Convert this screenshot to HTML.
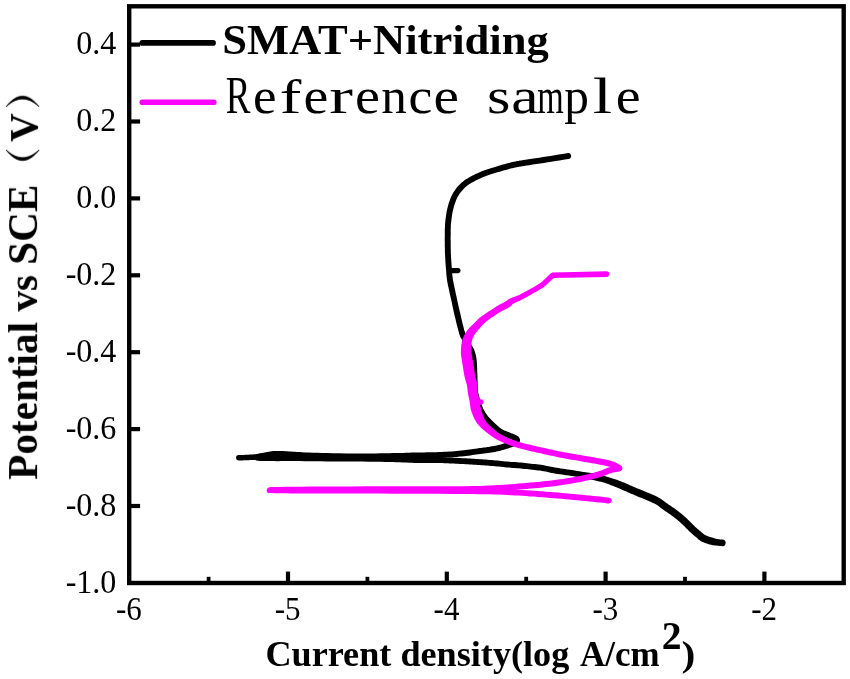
<!DOCTYPE html>
<html><head><meta charset="utf-8"><title>Polarization curves</title>
<style>
html,body{margin:0;padding:0;background:#fff;}
body{width:850px;height:679px;overflow:hidden;font-family:"Liberation Serif",serif;}
svg{display:block;}
text{font-family:"Liberation Serif",serif;fill:#000;}
.tx{filter:grayscale(1);}
.b{font-weight:bold;}
</style></head><body>
<svg width="850" height="679" viewBox="0 0 850 679">
<rect x="0" y="0" width="850" height="679" fill="#fff"/>
<g stroke="#000" stroke-width="4.2" fill="none">
<line x1="129.2" y1="44.6" x2="140.1" y2="44.6"/>
<line x1="129.2" y1="121.5" x2="140.1" y2="121.5"/>
<line x1="129.2" y1="198.4" x2="140.1" y2="198.4"/>
<line x1="129.2" y1="275.3" x2="140.1" y2="275.3"/>
<line x1="129.2" y1="352.2" x2="140.1" y2="352.2"/>
<line x1="129.2" y1="429.1" x2="140.1" y2="429.1"/>
<line x1="129.2" y1="506.0" x2="140.1" y2="506.0"/>
<line x1="288.0" y1="583.0" x2="288.0" y2="571.6"/>
<line x1="446.8" y1="583.0" x2="446.8" y2="571.6"/>
<line x1="605.6" y1="583.0" x2="605.6" y2="571.6"/>
<line x1="764.4" y1="583.0" x2="764.4" y2="571.6"/>
</g>
<g stroke="#000" stroke-width="3.8" fill="none">
<line x1="208.6" y1="583.0" x2="208.6" y2="576.8"/>
<line x1="367.4" y1="583.0" x2="367.4" y2="576.8"/>
<line x1="526.2" y1="583.0" x2="526.2" y2="576.8"/>
<line x1="685.0" y1="583.0" x2="685.0" y2="576.8"/>
</g>
<rect x="129.2" y="6.3" width="714.5" height="576.7" fill="none" stroke="#000" stroke-width="4.4"/>
<g class="tx">
<g font-size="33" text-anchor="end">
<text transform="translate(116.4,54.2) scale(0.972,1)">0.4</text>
<text transform="translate(116.4,131.1) scale(0.972,1)">0.2</text>
<text transform="translate(116.4,208.0) scale(0.972,1)">0.0</text>
<text transform="translate(116.4,284.9) scale(0.972,1)">-0.2</text>
<text transform="translate(116.4,361.8) scale(0.972,1)">-0.4</text>
<text transform="translate(116.4,438.7) scale(0.972,1)">-0.6</text>
<text transform="translate(116.4,515.6) scale(0.972,1)">-0.8</text>
<text transform="translate(116.4,592.5) scale(0.972,1)">-1.0</text>
</g>
<g font-size="33" text-anchor="middle">
<text transform="translate(128.9,620.3) scale(0.94,1)">-6</text>
<text transform="translate(287.7,620.3) scale(0.94,1)">-5</text>
<text transform="translate(446.5,620.3) scale(0.94,1)">-4</text>
<text transform="translate(605.3,620.3) scale(0.94,1)">-3</text>
<text transform="translate(764.1,620.3) scale(0.94,1)">-2</text>
</g>
<text class="b" x="265.4" y="665.6" font-size="36.2">Current density(log</text>
<text class="b" x="580.0" y="665.6" font-size="34.9">A/cm</text>
<text class="b" x="661.7" y="649.2" font-size="39.6">2</text>
<text class="b" x="681.6" y="665.6" font-size="36.2" transform="translate(681.6,0) scale(1.15,1) translate(-681.6,0)">)</text>
<g transform="translate(37.1,479.8) rotate(-90)"><text class="b" x="0" y="0" font-size="41.2">Potential vs SCE</text><text class="b" x="338.0" y="0" font-size="39.5">V</text><path d="M329.9,-30.9 C315.8,-20 315.8,-9 329.9,2.0 C319.6,-9 319.6,-20 329.9,-30.9Z" fill="#000" stroke="#000" stroke-width="0.8"/><path d="M373.1,-30.9 C387.2,-20 387.2,-9 373.1,2.0 C383.4,-9 383.4,-20 373.1,-30.9Z" fill="#000" stroke="#000" stroke-width="0.8"/></g>
<text class="b" transform="translate(222.2,53.5) scale(1.032,1)" font-size="43.2">SMAT+Nitriding</text>
<text transform="translate(225.79,112.6) scale(0.719,1.02)" font-size="51.5">R</text>
<text transform="translate(252.88,112.6) scale(1.029,0.964)" font-size="51.5">e</text>
<text transform="translate(279.66,112.6) scale(1.258,0.95)" font-size="51.5">f</text>
<text transform="translate(303.56,112.6) scale(1.086,0.964)" font-size="51.5">e</text>
<text transform="translate(329.28,112.6) scale(1.382,0.964)" font-size="51.5">r</text>
<text transform="translate(354.95,112.6) scale(1.092,0.964)" font-size="51.5">e</text>
<text transform="translate(381.25,112.6) scale(0.995,0.964)" font-size="51.5">n</text>
<text transform="translate(408.49,112.6) scale(1.041,0.964)" font-size="51.5">c</text>
<text transform="translate(433.61,112.6) scale(1.113,0.964)" font-size="51.5">e</text>
<text transform="translate(487.09,112.6) scale(1.168,0.964)" font-size="51.5">s</text>
<text transform="translate(511.25,112.6) scale(1.195,0.964)" font-size="51.5">a</text>
<text transform="translate(537.32,112.6) scale(0.662,0.964)" font-size="51.5">m</text>
<text transform="translate(564.36,112.6) scale(0.956,0.964)" font-size="51.5">p</text>
<text transform="translate(592.80,112.6) scale(1.357,1.0)" font-size="51.5">l</text>
<text transform="translate(615.76,112.6) scale(1.086,0.964)" font-size="51.5">e</text>
</g>
<line x1="142.3" y1="42.9" x2="213.1" y2="42.9" stroke="#000" stroke-width="5.6" stroke-linecap="round"/>
<line x1="142.3" y1="102.2" x2="213.8" y2="102.2" stroke="#ff00ff" stroke-width="5.6" stroke-linecap="round"/>
<g stroke="none">
<path d="M567.9,153.1L565.6,153.5L562.4,154.0L558.7,154.6L554.6,155.2L550.5,155.9L546.7,156.5L543.1,157.1L539.3,157.7L535.4,158.2L531.8,158.8L528.4,159.3L525.5,159.8L523.2,160.1L521.4,160.4L519.8,160.6L518.4,160.9L517.0,161.1L515.4,161.4L513.8,161.8L512.2,162.1L510.6,162.5L509.0,162.9L507.5,163.3L505.9,163.8L504.4,164.2L502.8,164.6L501.2,165.1L499.6,165.5L498.0,166.0L496.5,166.5L494.9,166.9L493.3,167.4L491.6,167.9L490.0,168.4L488.4,168.9L486.8,169.4L485.3,169.9L483.9,170.5L482.5,171.0L481.1,171.6L479.8,172.2L478.4,172.8L477.0,173.5L475.5,174.1L474.0,174.9L472.6,175.6L471.2,176.3L469.9,177.0L468.6,177.7L467.5,178.4L466.3,179.1L465.2,179.8L464.1,180.6L463.1,181.4L462.0,182.3L461.0,183.2L460.0,184.2L459.1,185.1L458.2,186.1L457.3,187.1L456.5,188.1L455.7,189.1L455.0,190.2L454.2,191.2L453.5,192.3L452.8,193.4L452.2,194.6L451.7,195.7L451.1,196.8L450.6,198.0L450.2,199.2L449.7,200.4L449.3,201.7L448.8,203.1L448.4,204.6L448.0,206.0L447.6,207.5L447.2,208.9L446.9,210.4L446.6,211.8L446.4,213.3L446.2,214.7L446.0,216.1L445.8,217.5L445.6,218.8L445.4,220.1L445.3,221.4L445.2,222.8L445.0,224.2L445.0,225.9L444.9,227.7L444.8,229.6L444.8,231.6L444.8,233.7L444.8,235.7L444.8,237.7L444.7,239.6L444.8,241.4L444.8,243.3L444.8,245.1L444.8,246.8L444.9,248.5L444.9,250.0L444.9,251.3L444.9,252.6L445.0,253.9L445.1,255.4L445.2,257.2L445.3,259.3L445.4,261.7L445.6,264.3L445.8,267.0L446.0,269.4L446.2,271.5L446.3,273.3L446.4,274.9L446.6,276.3L446.7,277.7L446.9,279.0L447.1,280.4L447.3,281.9L447.6,283.2L447.8,284.5L448.1,285.9L448.4,287.2L448.7,288.6L449.0,290.0L449.3,291.4L449.6,292.9L450.0,294.4L450.4,296.2L450.8,298.3L451.4,300.8L452.0,303.6L452.6,306.6L453.3,309.8L454.0,312.9L454.7,316.0L455.5,319.1L456.2,322.3L457.0,325.5L457.8,328.6L458.6,331.5L459.3,333.9L460.0,335.9L460.6,337.4L461.3,338.6L461.9,339.6L462.4,340.5L462.9,341.4L463.5,342.5L464.1,343.7L464.7,344.8L465.3,345.9L465.9,346.9L466.4,347.9L467.0,348.9L467.5,349.7L467.9,350.4L468.2,351.0L468.6,351.6L468.9,352.3L469.2,353.1L469.4,354.0L469.7,355.0L470.0,356.0L470.2,357.0L470.4,358.0L470.6,359.0L470.7,360.0L470.8,360.9L470.9,362.0L471.0,363.0L471.1,364.2L471.1,365.4L471.2,366.7L471.2,368.0L471.3,369.4L471.3,370.7L471.4,372.1L471.4,373.5L471.5,374.9L471.5,376.2L471.6,377.6L471.6,378.9L471.7,380.1L471.7,381.2L471.7,382.2L471.7,383.2L471.8,384.1L471.8,385.1L471.9,386.1L471.9,387.1L471.9,388.1L471.9,389.2L472.0,390.3L472.1,391.6L472.3,392.9L472.6,394.3L472.9,395.7L473.2,397.1L473.6,398.6L474.1,400.0L474.5,401.4L474.9,402.8L475.3,404.2L475.7,405.6L476.2,407.1L476.8,408.5L477.4,410.0L478.1,411.5L478.9,413.0L479.7,414.5L480.6,416.0L481.5,417.4L482.5,418.9L483.6,420.2L484.7,421.5L485.8,422.7L487.0,423.9L488.2,425.1L489.5,426.2L490.7,427.5L492.1,428.8L493.6,430.2L495.1,431.5L496.7,432.8L498.4,434.0L500.2,435.0L502.0,435.9L503.8,436.6L505.5,437.2L507.0,437.8L508.4,438.3L509.7,438.9L510.9,439.3L512.0,439.8L512.9,440.1L513.6,440.4L514.0,440.7L514.3,440.9L514.4,441.0L514.3,440.9L514.2,440.5L514.1,440.1L514.2,439.7L514.3,439.5L514.3,439.5L514.1,439.7L513.8,439.9L513.3,440.2L512.7,440.6L512.0,440.9L511.0,441.2L509.9,441.6L508.8,442.0L507.5,442.4L506.2,442.8L504.9,443.2L503.6,443.6L502.3,444.0L501.0,444.4L499.6,444.8L498.2,445.1L496.8,445.5L495.3,445.8L493.8,446.1L492.3,446.3L490.6,446.6L489.0,446.9L487.2,447.1L485.3,447.4L483.3,447.6L481.3,447.9L479.3,448.1L477.3,448.4L475.3,448.7L473.4,449.0L471.5,449.2L469.6,449.5L467.6,449.8L465.6,450.1L463.4,450.3L461.2,450.5L458.9,450.8L456.6,451.0L454.2,451.2L451.8,451.4L449.4,451.5L446.9,451.7L444.4,451.8L441.8,451.9L439.2,452.1L436.4,452.2L433.5,452.2L430.4,452.3L427.1,452.3L423.9,452.4L420.7,452.4L417.5,452.5L414.6,452.5L411.8,452.6L409.1,452.7L406.3,452.8L403.3,452.9L399.9,453.0L396.4,453.0L392.9,453.1L389.1,453.2L385.1,453.3L380.5,453.3L375.3,453.4L369.1,453.4L361.9,453.4L354.3,453.4L346.6,453.4L339.4,453.3L332.9,453.3L327.3,453.1L322.1,453.0L317.3,452.8L312.9,452.7L308.8,452.5L305.1,452.4L302.0,452.2L299.4,452.1L297.1,451.9L295.1,451.8L293.2,451.7L291.2,451.6L289.1,451.4L287.2,451.3L285.3,451.2L283.5,451.1L281.7,451.0L280.1,451.0L278.5,450.9L277.1,450.9L275.7,451.0L274.4,451.0L273.1,451.1L271.7,451.3L270.2,451.4L268.8,451.7L267.4,451.9L266.0,452.2L264.7,452.5L263.4,452.7L262.1,453.0L260.7,453.3L259.4,453.6L258.1,453.8L257.1,454.1L256.4,454.2A2.95,2.95 0 0 0 257.6,460.0L258.4,459.8L259.4,459.6L260.6,459.3L261.9,459.0L263.3,458.8L264.6,458.5L265.9,458.2L267.2,458.0L268.5,457.7L269.8,457.5L271.1,457.3L272.3,457.1L273.5,457.0L274.7,456.9L275.9,456.9L277.2,456.8L278.5,456.8L279.9,456.8L281.5,456.9L283.2,457.0L284.9,457.1L286.8,457.2L288.8,457.3L290.8,457.4L292.8,457.6L294.7,457.7L296.8,457.8L299.0,458.0L301.7,458.1L304.9,458.2L308.6,458.4L312.6,458.6L317.1,458.7L321.9,458.9L327.2,459.0L332.9,459.1L339.3,459.2L346.6,459.3L354.3,459.3L361.9,459.3L369.1,459.3L375.3,459.2L380.6,459.2L385.2,459.2L389.3,459.1L393.0,459.0L396.6,458.9L400.1,458.8L403.4,458.8L406.4,458.7L409.3,458.6L412.0,458.5L414.8,458.4L417.7,458.3L420.8,458.3L424.0,458.3L427.2,458.2L430.4,458.2L433.6,458.1L436.6,458.0L439.4,457.9L442.1,457.8L444.7,457.7L447.3,457.6L449.7,457.4L452.2,457.2L454.7,457.1L457.1,456.9L459.5,456.6L461.8,456.4L464.0,456.2L466.2,455.9L468.4,455.7L470.4,455.4L472.4,455.1L474.3,454.8L476.2,454.5L478.1,454.2L480.1,454.0L482.0,453.7L484.0,453.5L486.0,453.2L488.0,453.0L489.8,452.7L491.6,452.4L493.3,452.2L494.9,451.9L496.5,451.5L498.0,451.2L499.6,450.9L501.1,450.5L502.6,450.1L504.0,449.7L505.4,449.2L506.7,448.8L508.0,448.4L509.2,448.0L510.5,447.6L511.8,447.2L513.0,446.8L514.2,446.3L515.3,445.8L516.3,445.3L517.2,444.8L517.9,444.1L518.7,443.4L519.3,442.6L519.8,441.5L520.0,440.3L519.9,439.0L519.4,437.9L518.8,437.0L518.0,436.3L517.2,435.7L516.2,435.2L515.2,434.7L514.1,434.3L513.0,433.8L511.9,433.4L510.6,432.9L509.2,432.3L507.6,431.7L506.0,431.1L504.4,430.5L502.9,429.8L501.6,429.0L500.3,428.1L498.9,427.0L497.6,425.8L496.2,424.5L494.8,423.2L493.5,422.0L492.3,420.8L491.2,419.7L490.1,418.6L489.1,417.5L488.1,416.5L487.3,415.3L486.4,414.1L485.6,412.9L484.8,411.6L484.1,410.2L483.4,408.9L482.8,407.6L482.2,406.3L481.8,405.1L481.3,403.8L480.9,402.5L480.5,401.1L480.1,399.8L479.7,398.4L479.3,397.0L479.0,395.6L478.6,394.3L478.3,393.1L478.1,391.9L478.0,390.9L477.9,389.9L477.8,389.0L477.8,388.0L477.8,386.9L477.7,385.9L477.7,384.9L477.7,383.9L477.6,383.0L477.6,382.0L477.6,381.0L477.5,379.9L477.5,378.7L477.5,377.4L477.4,376.0L477.4,374.6L477.3,373.2L477.2,371.9L477.2,370.6L477.2,369.2L477.1,367.8L477.1,366.4L477.0,365.1L476.9,363.8L476.9,362.6L476.8,361.5L476.7,360.4L476.5,359.2L476.4,358.1L476.2,357.0L476.0,355.8L475.7,354.6L475.4,353.5L475.1,352.3L474.7,351.2L474.3,350.1L473.9,349.1L473.4,348.2L472.9,347.3L472.5,346.6L472.0,345.9L471.6,345.1L471.1,344.1L470.5,343.1L469.9,342.0L469.3,340.9L468.7,339.8L468.1,338.6L467.5,337.5L466.9,336.6L466.4,335.8L466.0,334.9L465.5,333.7L464.9,332.1L464.2,329.9L463.5,327.1L462.7,324.1L462.0,320.9L461.2,317.7L460.5,314.6L459.8,311.6L459.1,308.5L458.4,305.4L457.7,302.4L457.1,299.5L456.6,297.1L456.1,295.0L455.7,293.2L455.4,291.6L455.1,290.2L454.8,288.8L454.5,287.4L454.2,286.0L453.9,284.6L453.6,283.3L453.4,282.1L453.1,280.8L452.9,279.6L452.7,278.3L452.6,277.0L452.4,275.8L452.3,274.4L452.2,272.8L452.0,271.1L451.9,268.9L451.7,266.5L451.5,263.9L451.3,261.4L451.2,258.9L451.0,256.8L451.0,255.1L450.9,253.7L450.8,252.4L450.8,251.1L450.8,249.8L450.7,248.3L450.7,246.7L450.7,245.0L450.7,243.2L450.7,241.4L450.6,239.6L450.6,237.7L450.7,235.8L450.7,233.8L450.7,231.7L450.7,229.7L450.8,227.9L450.8,226.1L450.9,224.6L451.0,223.3L451.2,222.0L451.3,220.8L451.5,219.6L451.6,218.3L451.8,216.9L452.0,215.6L452.2,214.2L452.4,212.9L452.7,211.6L453.0,210.3L453.3,208.9L453.7,207.6L454.0,206.2L454.4,204.9L454.9,203.6L455.3,202.4L455.7,201.3L456.1,200.2L456.5,199.2L457.0,198.2L457.4,197.3L458.0,196.4L458.5,195.4L459.1,194.5L459.7,193.6L460.4,192.7L461.1,191.8L461.9,190.9L462.6,190.0L463.4,189.2L464.2,188.3L465.0,187.5L465.9,186.7L466.7,186.0L467.6,185.3L468.5,184.7L469.5,184.1L470.5,183.5L471.6,182.8L472.7,182.2L474.0,181.5L475.3,180.8L476.6,180.1L478.0,179.5L479.4,178.8L480.8,178.2L482.1,177.6L483.4,177.0L484.7,176.5L486.0,176.0L487.4,175.5L488.8,175.0L490.2,174.5L491.7,174.0L493.3,173.5L494.9,173.1L496.5,172.6L498.1,172.1L499.7,171.7L501.3,171.2L502.8,170.7L504.4,170.3L505.9,169.9L507.5,169.4L509.0,169.0L510.5,168.6L512.0,168.2L513.5,167.9L515.1,167.5L516.6,167.2L518.0,166.9L519.3,166.7L520.7,166.5L522.2,166.3L524.1,166.0L526.5,165.6L529.3,165.2L532.7,164.6L536.4,164.1L540.2,163.5L544.0,162.9L547.7,162.3L551.4,161.7L555.5,161.1L559.6,160.4L563.4,159.8L566.6,159.3L568.9,158.9A2.95,2.95 0 0 0 567.9,153.1Z" fill="#000"/>
<path d="M238.9,460.4L239.7,460.4L240.9,460.4L242.4,460.4L244.0,460.3L245.6,460.3L247.1,460.2L248.6,460.2L250.0,460.1L251.5,460.1L253.1,460.0L254.6,459.9L256.2,459.8L257.6,459.7L258.8,459.5L259.8,459.4L261.0,459.3L263.0,459.2L266.0,459.1L269.8,459.1L274.0,459.1L278.9,459.1L284.7,459.2L291.6,459.3L300.0,459.3L310.5,459.3L323.2,459.3L337.0,459.3L350.9,459.3L364.0,459.4L375.3,459.4L384.8,459.5L393.5,459.6L401.3,459.7L408.3,459.8L414.5,459.9L420.0,459.9L424.6,459.9L428.4,459.9L431.3,459.8L433.7,459.8L435.5,459.7L437.0,459.7A2.30,2.30 0 0 0 437.0,455.1L435.4,455.1L433.6,455.2L431.3,455.2L428.3,455.2L424.6,455.3L420.0,455.3L414.5,455.3L408.3,455.4L401.3,455.4L393.5,455.5L384.9,455.5L375.3,455.4L364.1,455.3L351.0,455.1L337.0,454.9L323.2,454.7L310.5,454.5L300.0,454.3L291.7,454.1L284.8,454.0L279.0,453.8L274.1,453.6L269.8,453.5L266.0,453.5L262.8,453.5L260.7,453.6L259.1,453.8L258.0,453.9L257.0,454.1L255.8,454.2L254.3,454.3L252.7,454.4L251.2,454.5L249.8,454.6L248.3,454.7L246.9,454.8L245.4,454.8L243.8,454.9L242.3,454.9L240.8,454.9L239.6,455.0L238.7,455.0A2.70,2.70 0 0 0 238.9,460.4Z" fill="#000"/>
<path d="M256.9,460.7L257.6,460.8L258.6,460.8L259.7,460.9L261.1,461.0L262.5,461.0L263.9,461.0L265.2,461.1L266.5,461.1L267.8,461.1L269.4,461.1L271.4,461.1L274.0,461.1L277.3,461.2L281.2,461.1L285.6,461.1L290.2,461.1L295.1,461.1L300.0,461.1L305.0,461.2L310.1,461.2L315.5,461.3L321.0,461.3L326.9,461.4L333.0,461.4L339.7,461.5L347.0,461.5L354.7,461.6L362.1,461.6L369.1,461.7L375.3,461.7L380.5,461.8L385.0,461.9L389.1,462.0L392.9,462.1L396.4,462.2L399.9,462.3L403.2,462.5L406.2,462.6L409.0,462.7L411.8,462.8L414.6,462.9L417.6,462.9L420.7,463.0L424.1,463.0L427.4,463.0L430.7,462.9L433.8,462.9L436.5,462.9L438.8,463.0L440.8,463.0L442.6,463.1L444.3,463.2L446.0,463.3L447.9,463.3L449.8,463.4L451.8,463.5L453.8,463.6L455.8,463.7L457.9,463.8L459.9,463.9L461.8,464.0L463.8,464.1L465.8,464.2L467.7,464.3L469.7,464.4L471.6,464.5L473.6,464.7L475.5,464.8L477.5,464.9L479.5,465.1L481.4,465.2L483.4,465.3L485.3,465.5L487.3,465.6L489.2,465.8L491.2,465.9L493.1,466.1L495.0,466.2L497.0,466.4L498.9,466.6L500.9,466.8L502.9,467.0L504.8,467.2L506.8,467.4L508.8,467.6L510.8,467.8L512.8,467.9L514.8,468.0L516.7,468.2L518.6,468.3L520.6,468.5L522.5,468.7L524.5,468.9L526.5,469.1L528.4,469.3L530.4,469.5L532.3,469.7L534.3,469.9L536.2,470.2L538.1,470.4L540.0,470.6L541.9,470.9L543.8,471.2L545.7,471.6L547.6,472.1L549.6,472.5L551.6,472.9L553.7,473.3L555.8,473.7L557.9,474.0L560.0,474.3L562.2,474.6L564.3,474.9L566.6,475.2L568.9,475.6L571.3,476.0L573.8,476.3L576.3,476.7L578.6,477.1L580.8,477.5L582.8,477.9L584.6,478.2L586.3,478.6L587.9,479.0L589.6,479.3L591.4,479.7L593.3,480.1L595.2,480.5L597.2,481.0L599.1,481.4L601.0,481.8L602.8,482.3L604.4,482.8L605.9,483.3L607.4,483.8L608.9,484.3L610.3,484.9L611.8,485.4L613.4,486.0L614.9,486.7L616.5,487.3L618.0,488.0L619.5,488.6L621.0,489.3L622.4,489.9L623.7,490.4L625.0,491.0L626.4,491.6L627.7,492.2L629.1,492.7L630.4,493.4L631.9,494.0L633.3,494.6L634.7,495.2L636.2,495.8L637.5,496.4L638.8,496.9L640.0,497.4L641.2,497.8L642.4,498.3L643.5,498.7L644.6,499.2L645.8,499.7L646.9,500.2L648.1,500.7L649.2,501.2L650.4,501.7L651.4,502.2L652.5,502.7L653.5,503.2L654.4,503.6L655.3,504.1L656.2,504.6L657.0,505.1L657.9,505.6L658.8,506.3L659.7,507.0L660.6,507.7L661.6,508.5L662.7,509.3L663.7,510.0L664.7,510.7L665.8,511.4L666.8,512.1L667.7,512.7L668.7,513.4L669.7,514.1L670.7,514.8L671.6,515.5L672.6,516.2L673.5,516.8L674.4,517.5L675.2,518.2L676.0,518.8L676.8,519.4L677.6,520.1L678.3,520.7L679.1,521.3L679.8,522.0L680.6,522.7L681.3,523.4L682.1,524.1L682.8,524.8L683.5,525.4L684.1,526.0L684.7,526.6L685.3,527.2L685.8,527.8L686.4,528.4L687.0,529.0L687.6,529.5L688.1,530.1L688.7,530.7L689.3,531.3L689.9,531.9L690.6,532.6L691.4,533.3L692.2,533.9L692.9,534.6L693.7,535.2L694.5,535.9L695.2,536.5L696.0,537.1L696.8,537.8L697.6,538.6L698.5,539.4L699.5,540.1L700.5,540.9L701.5,541.5L702.5,541.9L703.4,542.3L704.2,542.7L705.0,542.9L705.8,543.2L706.6,543.5L707.5,543.8L708.3,544.1L709.2,544.4L710.1,544.6L711.0,544.8L711.9,545.0L712.8,545.2L713.8,545.3L714.7,545.4L715.6,545.5L716.5,545.6L717.5,545.7L718.6,545.8L719.6,545.9L720.6,546.0L721.4,546.1L722.0,546.2A3.30,3.30 0 0 0 722.6,539.6L722.1,539.6L721.2,539.5L720.3,539.4L719.3,539.3L718.4,539.2L717.5,539.0L716.7,538.9L715.9,538.7L715.1,538.4L714.3,538.2L713.5,538.0L712.8,537.8L712.0,537.5L711.2,537.3L710.5,537.1L709.7,536.9L709.0,536.6L708.2,536.4L707.5,536.1L706.8,535.8L706.1,535.6L705.6,535.3L705.0,535.1L704.5,534.7L703.9,534.3L703.2,533.8L702.5,533.1L701.6,532.4L700.8,531.6L700.0,530.9L699.1,530.2L698.4,529.6L697.6,529.0L696.9,528.3L696.2,527.8L695.6,527.2L695.0,526.7L694.4,526.1L693.9,525.6L693.4,525.0L692.8,524.4L692.2,523.8L691.6,523.2L691.0,522.7L690.5,522.1L689.8,521.5L689.2,520.8L688.5,520.2L687.8,519.5L687.1,518.8L686.3,518.1L685.5,517.3L684.7,516.6L683.9,515.9L683.1,515.1L682.3,514.5L681.4,513.8L680.6,513.1L679.7,512.4L678.8,511.7L677.9,511.0L676.9,510.3L675.9,509.5L674.9,508.8L673.9,508.1L672.9,507.4L671.9,506.7L670.9,506.0L669.8,505.3L668.8,504.7L667.9,504.0L666.9,503.3L666.0,502.7L665.1,502.0L664.1,501.2L663.1,500.4L662.1,499.7L661.0,498.9L659.8,498.3L658.8,497.7L657.7,497.1L656.7,496.6L655.6,496.1L654.6,495.6L653.4,495.1L652.2,494.5L651.0,494.0L649.8,493.5L648.6,492.9L647.4,492.4L646.2,491.9L645.0,491.5L643.8,491.0L642.7,490.6L641.5,490.1L640.3,489.6L639.0,489.1L637.6,488.5L636.2,487.9L634.8,487.3L633.3,486.7L631.9,486.1L630.6,485.5L629.3,484.9L628.0,484.3L626.6,483.7L625.2,483.1L623.8,482.5L622.3,481.9L620.7,481.3L619.1,480.7L617.5,480.1L615.8,479.5L614.2,479.0L612.6,478.4L611.0,477.9L609.5,477.5L607.9,477.0L606.2,476.6L604.4,476.1L602.5,475.6L600.6,475.2L598.6,474.7L596.5,474.3L594.6,473.8L592.6,473.5L590.8,473.1L589.1,472.8L587.4,472.6L585.6,472.3L583.8,472.0L581.8,471.7L579.6,471.3L577.2,470.9L574.7,470.5L572.2,470.1L569.8,469.8L567.4,469.4L565.2,469.0L563.0,468.7L560.9,468.4L558.8,468.1L556.7,467.8L554.7,467.5L552.8,467.1L550.8,466.7L548.9,466.3L546.9,465.9L544.9,465.5L542.9,465.1L540.9,464.8L538.9,464.5L536.9,464.3L534.9,464.1L533.0,463.9L531.0,463.7L529.1,463.5L527.1,463.2L525.1,463.0L523.1,462.8L521.1,462.6L519.2,462.5L517.2,462.3L515.2,462.1L513.2,462.0L511.2,461.9L509.3,461.7L507.4,461.6L505.4,461.4L503.5,461.2L501.5,461.0L499.5,460.8L497.6,460.6L495.6,460.4L493.6,460.2L491.6,460.0L489.7,459.9L487.7,459.7L485.8,459.6L483.8,459.5L481.9,459.3L479.9,459.2L477.9,459.0L475.9,458.9L474.0,458.8L472.0,458.7L470.0,458.5L468.0,458.4L466.1,458.3L464.1,458.2L462.1,458.2L460.1,458.1L458.2,458.0L456.2,457.8L454.1,457.7L452.1,457.6L450.1,457.5L448.1,457.5L446.3,457.4L444.5,457.3L442.8,457.2L441.0,457.1L438.9,457.1L436.5,457.1L433.8,457.0L430.7,457.0L427.4,457.1L424.1,457.1L420.8,457.1L417.6,457.1L414.8,457.0L412.0,456.9L409.3,456.8L406.5,456.7L403.4,456.6L400.1,456.5L396.6,456.3L393.0,456.2L389.3,456.1L385.2,456.0L380.6,455.9L375.3,455.9L369.2,455.8L362.2,455.7L354.7,455.7L347.1,455.6L339.7,455.6L333.0,455.6L326.9,455.5L321.1,455.4L315.5,455.4L310.2,455.3L305.0,455.3L300.0,455.3L295.1,455.2L290.2,455.2L285.6,455.2L281.2,455.2L277.3,455.3L274.0,455.3L271.4,455.2L269.4,455.2L267.8,455.2L266.6,455.2L265.4,455.2L264.1,455.2L262.7,455.1L261.3,455.1L260.0,455.0L258.9,454.9L257.9,454.9L257.1,454.9A2.95,2.95 0 0 0 256.9,460.7Z" fill="#000"/>
<path d="M449.0,273.2L458.4,273.2A2.65,2.65 0 0 0 458.4,268.0L449.0,268.0A2.65,2.65 0 0 0 449.0,273.2Z" fill="#000"/>
<path d="M606.3,271.3L552.6,272.6A2.75,2.75 0 0 0 552.8,278.0L606.5,276.9A2.80,2.80 0 0 0 606.3,271.3Z" fill="#ff00ff"/>
<path d="M550.9,273.3L550.3,273.8L549.6,274.5L548.8,275.3L547.8,276.2L546.9,277.0L546.0,277.9L545.2,278.7L544.3,279.5L543.5,280.2L542.7,281.0L542.0,281.7L541.2,282.3L540.4,282.9L539.5,283.5L538.6,284.1L537.6,284.7L536.7,285.2L535.7,285.8L534.8,286.4L533.9,286.9L533.0,287.4L532.0,288.0L531.0,288.5L530.0,289.1L528.9,289.7L527.8,290.3L526.7,290.9L525.6,291.5L524.5,292.1L523.4,292.7L522.3,293.3L521.3,293.8L520.2,294.4L519.1,294.9L518.0,295.4L516.9,295.8L515.9,296.3L514.7,296.7L513.5,297.1L512.3,297.5L511.2,298.0L510.0,298.5L509.0,299.1L508.1,299.6L507.5,300.1L507.0,300.5L506.6,300.8L505.9,301.2L504.9,301.8L503.7,302.4L502.3,303.2L500.7,304.0L499.2,304.8L497.7,305.7L496.3,306.6L494.9,307.5L493.5,308.4L492.1,309.3L490.7,310.2L489.3,311.1L487.9,312.0L486.5,312.9L485.0,313.9L483.5,314.9L482.1,315.9L480.7,317.0L479.3,318.1L478.0,319.3L476.9,320.4L475.7,321.6L474.7,322.7L473.6,323.7L472.6,324.7L471.5,325.7L470.4,326.8L469.3,328.0L468.1,329.2L467.1,330.6L466.1,332.0L465.2,333.4L464.4,334.9L463.6,336.5L462.9,338.2L462.3,340.0L461.9,342.0L461.5,344.0L461.2,346.0L461.1,347.9L461.0,349.8L460.9,351.6L460.9,353.3L461.1,355.0L461.2,356.5L461.5,357.9L461.7,359.2L461.9,360.5L462.1,361.9L462.3,363.4L462.5,364.8L462.8,366.2L463.0,367.5L463.2,368.9L463.4,370.2L463.6,371.5L463.9,372.9L464.1,374.3L464.4,375.8L464.7,377.3L465.1,378.9L465.5,380.3L465.9,381.7L466.3,382.9L466.6,384.1L466.9,385.1L467.1,386.2L467.2,387.3L467.4,388.6L467.5,390.0L467.7,391.5L467.9,393.1L468.2,394.7L468.5,396.2L468.8,397.6L469.1,398.9L469.4,400.2L469.6,401.5L469.8,402.7L470.0,404.0L470.1,405.3L470.3,406.8L470.6,408.4L470.9,410.0L471.4,411.6L472.0,413.1L472.6,414.7L473.2,416.2L473.8,417.6L474.5,419.0L475.1,420.2L475.8,421.3L476.5,422.4L477.2,423.4L478.1,424.5L479.0,425.5L480.0,426.6L481.0,427.7L482.1,428.7L483.3,429.8L484.6,430.8L486.0,431.9L487.4,433.1L489.0,434.3L490.7,435.5L492.5,436.7L494.3,437.9L496.0,439.0L497.6,439.9L499.3,440.8L500.9,441.5L502.5,442.3L504.2,443.0L505.9,443.7L507.8,444.5L509.8,445.2L511.8,446.0L513.9,446.7L516.0,447.3L518.0,448.0L520.1,448.6L522.1,449.1L524.1,449.6L526.1,450.0L528.1,450.5L530.0,450.9L531.9,451.4L533.7,451.8L535.5,452.2L537.4,452.7L539.5,453.1L541.7,453.6L544.3,454.2L547.0,454.8L550.0,455.5L553.0,456.1L556.2,456.8L559.4,457.4L562.8,458.1L566.3,458.7L569.9,459.4L573.6,460.0L577.2,460.6L580.8,461.3L584.5,461.9L588.3,462.5L592.0,463.2L595.7,463.8L599.0,464.4L601.9,464.9L604.3,465.5L606.4,465.9L608.2,466.4L609.7,466.8L611.1,467.3L612.4,467.7L613.6,468.2L614.6,468.7L615.6,469.2L616.4,469.8L617.2,470.3L617.9,470.7A2.90,2.90 0 0 0 620.9,465.7L620.4,465.4L619.7,464.9L618.7,464.2L617.5,463.5L616.1,462.8L614.6,462.1L613.0,461.6L611.4,461.1L609.7,460.6L607.8,460.1L605.6,459.6L603.1,459.1L600.1,458.5L596.7,457.9L593.0,457.2L589.2,456.6L585.5,456.0L581.8,455.3L578.2,454.7L574.6,454.1L570.9,453.5L567.4,452.8L563.9,452.2L560.6,451.6L557.4,450.9L554.3,450.3L551.2,449.6L548.3,449.0L545.6,448.3L543.1,447.8L540.8,447.3L538.7,446.8L536.9,446.4L535.1,446.0L533.3,445.5L531.4,445.1L529.4,444.6L527.4,444.2L525.5,443.7L523.6,443.3L521.7,442.8L519.8,442.2L517.8,441.6L515.8,441.0L513.9,440.3L511.9,439.6L510.0,438.8L508.3,438.1L506.6,437.4L505.1,436.6L503.6,435.9L502.2,435.2L500.8,434.3L499.4,433.4L497.9,432.4L496.4,431.3L494.8,430.1L493.3,428.8L491.9,427.6L490.6,426.5L489.5,425.4L488.5,424.3L487.6,423.3L486.8,422.4L486.1,421.4L485.4,420.5L484.8,419.6L484.4,418.8L484.0,418.0L483.7,417.2L483.3,416.3L482.9,415.2L482.5,414.1L482.1,412.8L481.7,411.5L481.3,410.1L480.9,408.8L480.7,407.6L480.4,406.5L480.2,405.3L480.0,404.0L479.8,402.7L479.6,401.2L479.4,399.7L479.1,398.2L478.7,396.8L478.4,395.4L478.1,394.1L477.9,392.9L477.7,391.7L477.6,390.5L477.5,389.3L477.5,387.9L477.4,386.5L477.3,384.9L477.1,383.3L476.8,381.7L476.4,380.1L476.1,378.7L475.7,377.4L475.4,376.2L475.1,375.1L474.9,373.9L474.7,372.6L474.6,371.3L474.4,370.0L474.2,368.6L474.0,367.1L473.7,365.7L473.5,364.3L473.2,362.9L473.0,361.6L472.8,360.2L472.5,358.9L472.3,357.5L472.1,356.2L471.9,355.0L471.7,353.8L471.6,352.7L471.5,351.4L471.4,349.9L471.4,348.3L471.4,346.6L471.4,345.0L471.5,343.5L471.7,342.2L471.9,341.0L472.2,339.8L472.6,338.6L473.0,337.5L473.6,336.3L474.1,335.2L474.7,334.2L475.4,333.2L476.2,332.2L477.2,331.2L478.1,330.1L479.2,328.9L480.2,327.7L481.2,326.6L482.1,325.5L483.1,324.4L484.1,323.4L485.1,322.4L486.3,321.4L487.5,320.5L488.9,319.5L490.2,318.6L491.7,317.6L493.1,316.7L494.4,315.8L495.8,314.8L497.1,314.0L498.5,313.1L499.8,312.3L501.1,311.5L502.5,310.7L503.9,310.0L505.4,309.2L506.9,308.5L508.2,307.7L509.5,307.0L510.5,306.2L511.4,305.5L511.9,305.0L512.3,304.6L512.5,304.3L513.0,303.9L513.7,303.5L514.6,303.0L515.7,302.6L516.9,302.0L518.1,301.5L519.3,301.0L520.4,300.4L521.5,299.8L522.6,299.3L523.7,298.7L524.9,298.1L526.0,297.5L527.1,296.9L528.2,296.2L529.4,295.6L530.5,294.9L531.6,294.3L532.6,293.7L533.6,293.1L534.6,292.6L535.6,292.1L536.5,291.5L537.5,291.0L538.5,290.4L539.4,289.8L540.4,289.2L541.4,288.6L542.4,287.9L543.4,287.2L544.4,286.5L545.4,285.7L546.3,284.9L547.2,284.1L548.0,283.3L548.8,282.5L549.6,281.7L550.5,280.9L551.4,280.1L552.4,279.2L553.2,278.4L554.0,277.8L554.5,277.3A2.70,2.70 0 0 0 550.9,273.3Z" fill="#ff00ff"/>
<path d="M618.8,465.3L617.7,465.5L616.3,465.8L614.5,466.1L612.5,466.6L610.6,467.0L608.7,467.5L607.0,468.1L605.5,468.7L604.0,469.3L602.5,470.0L601.0,470.6L599.3,471.1L597.3,471.7L595.2,472.3L592.9,472.9L590.5,473.6L588.0,474.2L585.3,474.8L582.5,475.4L579.6,476.0L576.5,476.6L573.3,477.2L570.0,477.8L566.7,478.3L563.4,478.9L560.0,479.3L556.5,479.8L553.0,480.3L549.4,480.7L545.7,481.1L541.9,481.5L538.0,481.9L534.1,482.3L530.1,482.6L526.1,483.0L522.2,483.3L518.4,483.6L514.8,483.9L511.2,484.2L507.4,484.5L503.3,484.8L498.8,485.0L494.1,485.2L489.7,485.5L484.9,485.7L479.3,485.9L472.4,486.0L463.6,486.2L452.4,486.2L439.2,486.3L424.6,486.2L409.4,486.2L394.3,486.2L380.0,486.3L365.9,486.3L351.2,486.4L336.7,486.4L322.9,486.5L310.4,486.6L300.0,486.7L291.6,486.7L284.9,486.8L279.6,486.9L275.4,487.0L272.0,487.1L269.2,487.2A2.75,2.75 0 0 0 269.4,492.6L272.1,492.6L275.5,492.5L279.7,492.4L285.0,492.3L291.7,492.2L300.0,492.1L310.5,492.1L322.9,492.0L336.7,491.9L351.3,491.9L365.9,491.8L380.0,491.7L394.3,491.7L409.4,491.7L424.6,491.7L439.2,491.7L452.4,491.7L463.6,491.6L472.5,491.6L479.4,491.4L485.1,491.3L489.9,491.2L494.4,491.0L499.0,490.8L503.7,490.6L507.8,490.4L511.6,490.1L515.2,489.9L518.9,489.6L522.6,489.3L526.6,489.0L530.6,488.6L534.6,488.3L538.6,487.9L542.5,487.5L546.3,487.1L550.0,486.7L553.7,486.2L557.3,485.8L560.8,485.3L564.3,484.8L567.7,484.3L571.0,483.7L574.4,483.1L577.6,482.5L580.8,481.9L583.8,481.2L586.7,480.6L589.4,480.0L592.0,479.4L594.4,478.8L596.8,478.1L599.0,477.5L601.1,476.9L603.1,476.2L604.8,475.5L606.3,474.9L607.8,474.3L609.1,473.7L610.5,473.3L612.1,472.8L613.9,472.4L615.7,472.0L617.4,471.7L618.9,471.4L620.0,471.1A3.00,3.00 0 0 0 618.8,465.3Z" fill="#ff00ff"/>
<path d="M269.3,493.1L272.0,493.1L275.4,493.2L279.6,493.2L285.0,493.3L291.7,493.4L300.0,493.4L310.4,493.4L322.9,493.5L336.7,493.5L351.2,493.5L365.9,493.6L380.0,493.6L394.3,493.7L409.4,493.7L424.6,493.8L439.2,493.8L452.4,493.9L463.6,494.0L472.4,494.1L479.4,494.2L485.0,494.2L489.8,494.3L494.2,494.5L498.8,494.6L503.4,494.8L507.5,494.9L511.2,495.2L514.8,495.4L518.4,495.6L522.2,495.8L526.1,496.1L530.1,496.4L534.0,496.6L537.9,496.9L541.8,497.2L545.8,497.5L549.7,497.9L553.6,498.2L557.6,498.5L561.5,498.8L565.4,499.2L569.3,499.5L573.3,499.9L577.4,500.3L581.5,500.7L585.5,501.1L589.3,501.5L592.8,501.8L596.1,502.2L599.3,502.5L602.3,502.8L605.0,503.1L607.2,503.4L608.9,503.5A2.95,2.95 0 0 0 609.5,497.7L607.8,497.5L605.6,497.2L602.9,497.0L599.9,496.6L596.7,496.3L593.4,496.0L589.9,495.6L586.1,495.2L582.1,494.8L578.0,494.4L573.9,494.0L569.9,493.7L565.9,493.3L562.0,493.0L558.1,492.6L554.1,492.3L550.2,492.0L546.2,491.7L542.3,491.3L538.4,491.0L534.4,490.7L530.5,490.5L526.5,490.2L522.6,490.0L518.8,489.7L515.2,489.6L511.5,489.4L507.7,489.2L503.6,489.1L499.0,489.0L494.3,488.9L489.8,488.9L485.0,488.9L479.4,488.9L472.4,488.8L463.6,488.8L452.4,488.7L439.2,488.7L424.6,488.6L409.4,488.5L394.3,488.5L380.0,488.4L365.9,488.4L351.2,488.3L336.7,488.3L322.9,488.3L310.4,488.2L300.0,488.2L291.7,488.2L285.0,488.1L279.7,488.0L275.5,488.0L272.1,487.9L269.3,487.9A2.60,2.60 0 0 0 269.3,493.1Z" fill="#ff00ff"/>
<path d="M477.0,404.7L480.8,404.7A2.70,2.70 0 0 0 480.8,399.3L477.0,399.3A2.70,2.70 0 0 0 477.0,404.7Z" fill="#ff00ff"/>
</g>
</svg></body></html>
